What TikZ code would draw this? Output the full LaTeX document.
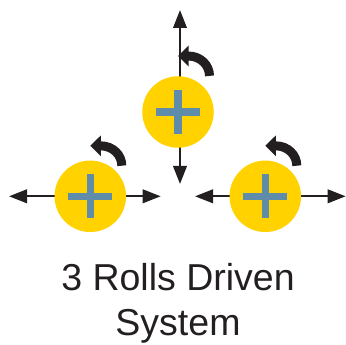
\documentclass[tikz,border=0pt]{standalone}
\usepackage{fontspec}
\setmainfont{Liberation Sans}
\usetikzlibrary{arrows.meta}
\definecolor{inkk}{HTML}{231F20}
\definecolor{rollfill}{HTML}{FFD200}
\definecolor{crossc}{HTML}{5F8CA8}
\tikzset{
  x=1pt,y=-1pt,
  rollnode/.style={circle,fill=rollfill,draw=none,inner sep=0pt,minimum size=71.5pt},
  motion/.style={draw=inkk,line width=2.2pt,{Triangle[length=18pt,width=13.5pt,color=inkk]}-{Triangle[length=18pt,width=13.5pt,color=inkk]}},
  turnarrow/.style={draw=inkk,line width=9pt,-{Triangle[length=10.5pt,width=20pt,color=inkk]}},
  crossbar/.style={fill=crossc,draw=none},
  caption/.style={align=center,font=\fontsize{37.5}{45.5}\selectfont,text=inkk,inner sep=0pt},
  pics/rollcross/.style={code={
    \fill[crossbar] (-22,-3.7) rectangle (22,3.7);
    \fill[crossbar] (-3.7,-22) rectangle (3.7,22);
  }},
  pics/turn/.style={code={
    \draw[turnarrow] (31.5,-30.6) .. controls (31.5,-41) and (23,-50.5) .. (10,-50.5) -- (0,-50.5);
  }}
}
\begin{document}
\begin{tikzpicture}
\useasboundingbox (0,0) rectangle (346,345);
% motion axes
\coordinate (tTop) at (180,10);
\coordinate (tBot) at (180,184);
\coordinate (lLeft) at (9,196.3);
\coordinate (lRight) at (160.7,196.3);
\coordinate (rLeft) at (195,196.3);
\coordinate (rRight) at (345.7,196.3);
\draw[motion] (tTop) -- (tBot);
\draw[motion] (lLeft) -- (lRight);
\draw[motion] (rLeft) -- (rRight);
% rolls
\node[rollnode] (top) at (178,112) {};
\node[rollnode] (left) at (90.3,196.3) {};
\node[rollnode] (right) at (265.3,196.3) {};
\foreach \n in {top,left,right}{ \pic at (\n) {rollcross}; }
\pic at (178,106.5) {turn};
\pic at (90.3,196.3) {turn};
\pic at (265.3,196.3) {turn};
\node[caption] (cap) at (178,303.5) {3 Rolls Driven\\System};
\end{tikzpicture}
\end{document}
